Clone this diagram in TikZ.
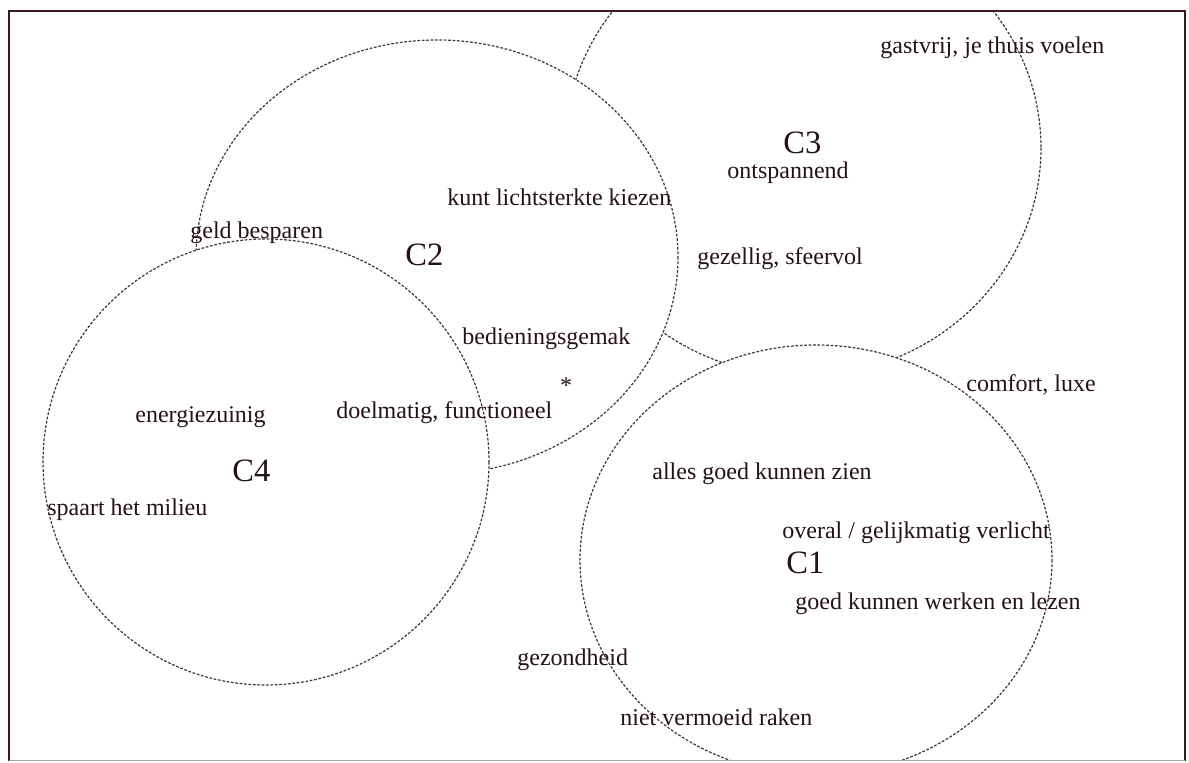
\documentclass[tikz,border=0pt]{standalone}
\usepackage{fontspec}
\setmainfont{Liberation Serif}
\definecolor{ink}{HTML}{26101A}
\definecolor{dashc}{HTML}{3F3436}
\definecolor{framec}{HTML}{3A1A22}
\tikzset{
  lbl/.style={anchor=base west, inner sep=0pt, text=ink, font=\fontsize{12}{13}\selectfont},
  clbl/.style={anchor=base west, inner sep=0pt, text=ink, font=\fontsize{16.3}{18}\selectfont},
  ring/.style={draw=dashc, fill=white, line width=0.6pt, dash pattern=on 1.35pt off 0.85pt},
}
\begin{document}
\begin{tikzpicture}[x=0.5pt,y=-0.5pt]
\useasboundingbox (0,0) rectangle (1189,763);
\begin{scope}
  \clip (9,11) rectangle (1185,761);
  \draw[ring] (803,148) ellipse [x radius=238, y radius=228];
  \draw[ring] (437,257) ellipse [x radius=241, y radius=217];
  \draw[ring] (266,462) circle [radius=223];
  \draw[ring] (816,560) ellipse [x radius=236, y radius=215];
\end{scope}
\draw[framec, line width=0.8pt] (9,761) -- (9,11) -- (1185,11) -- (1185,761);
\draw[framec!40, line width=0.5pt] (9,761) -- (1185,761);
\node[lbl]  (t1)  at (880,54)  {gastvrij, je thuis voelen};
\node[clbl] (c3)  at (783,154) {C3};
\node[lbl]  (t2)  at (727,179) {ontspannend};
\node[lbl]  (t3)  at (447,206) {kunt lichtsterkte kiezen};
\node[lbl]  (t4)  at (190,239) {geld besparen};
\node[clbl] (c2)  at (405,266) {C2};
\node[lbl]  (t5)  at (697,265) {gezellig, sfeervol};
\node[lbl]  (t6)  at (462,345) {bedieningsgemak};
\node[inner sep=0pt, text=ink, font=\fontsize{12}{13}\selectfont] (st) at (566,386) {*};
\node[lbl]  (t7)  at (966,392) {comfort, luxe};
\node[lbl]  (t8)  at (135,423) {energiezuinig};
\node[lbl]  (t9)  at (336,419) {doelmatig, functioneel};
\node[lbl]  (t10) at (652,480) {alles goed kunnen zien};
\node[clbl] (c4)  at (232,482) {C4};
\node[lbl]  (t11) at (47,516)  {spaart het milieu};
\node[lbl]  (t12) at (782,539) {overal / gelijkmatig verlicht};
\node[clbl] (c1)  at (786,574) {C1};
\node[lbl]  (t13) at (795,610) {goed kunnen werken en lezen};
\node[lbl]  (t14) at (517,666) {gezondheid};
\node[lbl]  (t15) at (620,726) {niet vermoeid raken};
\end{tikzpicture}
\end{document}
